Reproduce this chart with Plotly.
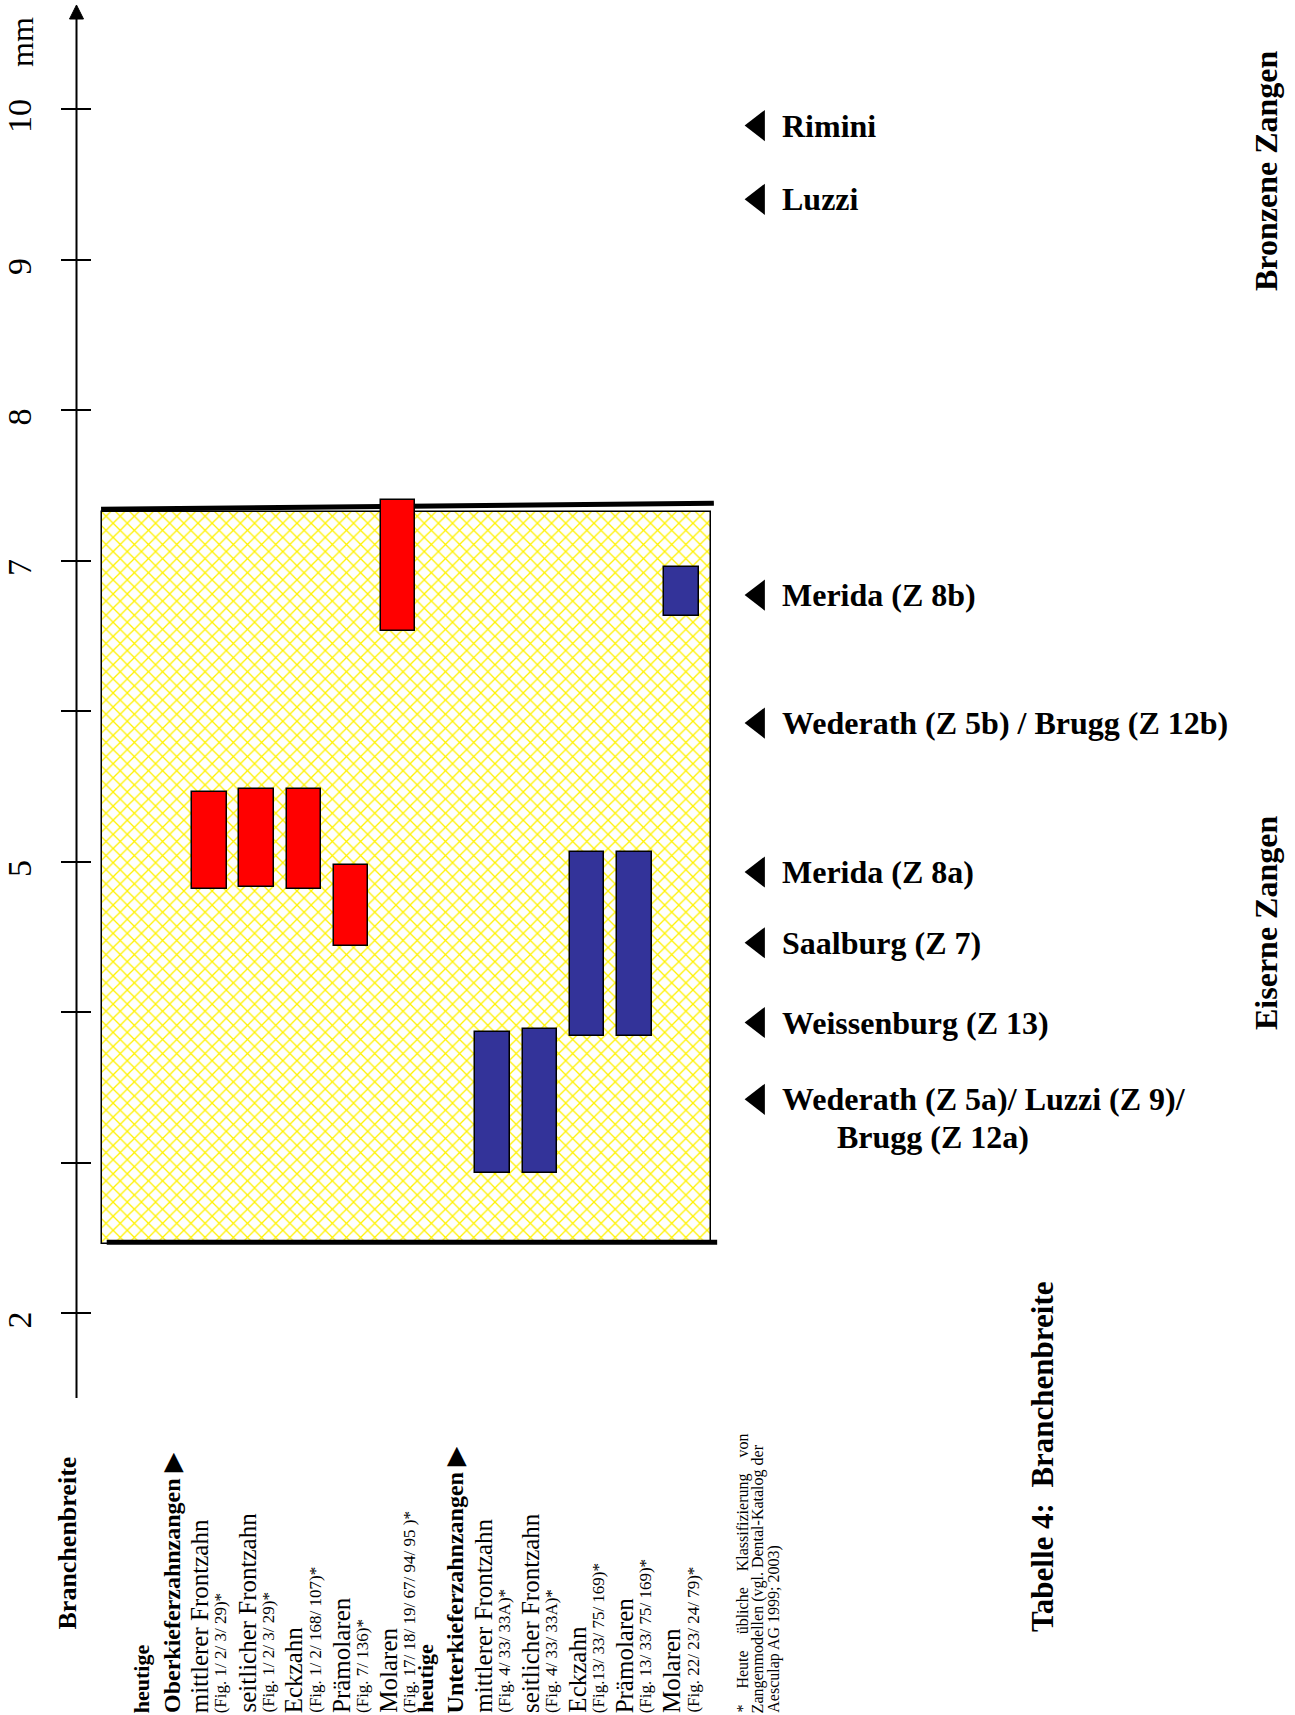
import plotly.graph_objects as go

W, H = 1295, 1715

# ---------------- data ----------------
TOOTH_NAMES = ["mittlerer Frontzahn", "seitlicher Frontzahn", "Eckzahn", "Prämolaren", "Molaren"]
UPPER_FIGS = ["(Fig. 1/ 2/ 3/ 29)*", "(Fig. 1/ 2/ 3/ 29)*", "(Fig. 1/ 2/ 168/ 107)*",
              "(Fig. 7/ 136)*", "(Fig. 17/ 18/ 19/ 67/ 94/ 95 )*"]
UPPER_MIN = [4.82, 4.83, 4.82, 4.44, 6.53]
UPPER_MAX = [5.46, 5.48, 5.48, 4.98, 7.40]

LOWER_FIGS = ["(Fig. 4/ 33/ 33A)*", "(Fig. 4/ 33/ 33A)*", "(Fig.13/ 33/ 75/ 169)*",
              "(Fig. 13/ 33/ 75/ 169)*", "(Fig. 22/ 23/ 24/ 79)*"]
LOWER_MIN = [2.93, 2.93, 3.84, 3.84, 6.63]
LOWER_MAX = [3.87, 3.89, 5.06, 5.06, 6.96]

HEUTIGE_RANGE = [2.46, 7.32]
HEUTIGE_TOP_LINE = [7.34, 7.38]
HEUTIGE_BOTTOM_LINE = [2.47, 2.47]

SITE_NAMES = ["Rimini", "Luzzi", "Merida (Z 8b)", "Wederath (Z 5b) / Brugg (Z 12b)",
              "Merida (Z 8a)", "Saalburg (Z 7)", "Weissenburg (Z 13)",
              "Wederath (Z 5a)/ Luzzi (Z 9)/\nBrugg (Z 12a)"]
SITE_MM = [9.89, 9.40, 6.77, 5.92, 4.93, 4.46, 3.93, 3.42]

TICK_VALUES = [2, 3, 4, 5, 6, 7, 8, 9, 10]
TICK_LABELS = ["2", "", "", "5", "", "7", "8", "9", "10"]

# ---------------- layout geometry ----------------
SERIF = "Liberation Serif, Times New Roman, serif"
PX_PER_MM = 150.5
MM6_PX = 711
Y_HI = 6 + MM6_PX / PX_PER_MM
Y_LO = 6 - (H - MM6_PX) / PX_PER_MM
SLOT_PX = 47.23
X0_PX = 209.3
X_LO = -X0_PX / SLOT_PX
X_HI = (W - X0_PX) / SLOT_PX

upper_pos = [i for i in range(len(TOOTH_NAMES))]
lower_pos = [len(TOOTH_NAMES) + 1 + i for i in range(len(TOOTH_NAMES))]


def pxx(p):
    return p / W


def pxy(p):
    return 1 - p / H


def mm_at_px(p):
    return 6 + (MM6_PX - p) / PX_PER_MM


fig = go.Figure()

# yellow hatched range box
box_x0 = upper_pos[0] - 2.272
box_x1 = lower_pos[-1] + 0.623
fig.add_trace(go.Bar(
    x=[(box_x0 + box_x1) / 2], y=[HEUTIGE_RANGE[1] - HEUTIGE_RANGE[0]], base=[HEUTIGE_RANGE[0]],
    width=[box_x1 - box_x0],
    marker=dict(color="#FFFF00", line=dict(color="black", width=1.5),
                pattern=dict(shape="x", fgcolor="#FFF200", bgcolor="white", size=10,
                             solidity=0.24, fillmode="replace")),
    hoverinfo="skip", showlegend=False))

fig.add_trace(go.Bar(
    x=upper_pos, base=UPPER_MIN, y=[a - b for a, b in zip(UPPER_MAX, UPPER_MIN)], width=0.73,
    marker=dict(color="#FF0000", line=dict(color="black", width=1.5)),
    name="Oberkiefer", showlegend=False))
fig.add_trace(go.Bar(
    x=lower_pos, base=LOWER_MIN, y=[a - b for a, b in zip(LOWER_MAX, LOWER_MIN)], width=0.73,
    marker=dict(color="#333399", line=dict(color="black", width=1.5)),
    name="Unterkiefer", showlegend=False))

# site markers (triangles)
marker_x = lower_pos[-1] + 1.62
text_x = lower_pos[-1] + 2.08
fig.add_trace(go.Scatter(
    x=[marker_x] * len(SITE_MM), y=SITE_MM, mode="markers",
    marker=dict(symbol="triangle-left", size=27, color="black", line=dict(width=0)),
    hoverinfo="skip", showlegend=False))

annotations = []
for name, v in zip(SITE_NAMES, SITE_MM):
    for k, line in enumerate(name.split("\n")):
        annotations.append(dict(
            x=text_x, y=v, xref="x", yref="y", text="<b>%s</b>" % line, showarrow=False,
            xanchor="left", yanchor="middle", xshift=55 * k, yshift=-38 * k,
            font=dict(family=SERIF, size=32, color="black")))

# "mm" unit
annotations.append(dict(x=pxx(22), y=mm_at_px(42), xref="paper", yref="y", text="mm",
                        showarrow=False, textangle=-90, xanchor="center", yanchor="middle",
                        font=dict(family=SERIF, size=32, color="black")))

# bottom labels
NAME_FONT = dict(family=SERIF, size=25, color="black")
FIG_FONT = dict(family=SERIF, size=17, color="black")
HEAD_FONT = dict(family=SERIF, size=24, color="black")


def bottom(x, text, font, xshift=0, xref="x", y=0.0):
    annotations.append(dict(x=x, y=y, xref=xref, yref="paper", text=text, showarrow=False,
                            textangle=-90, xanchor="center", yanchor="bottom", xshift=xshift,
                            align="left", font=font))


bottom(pxx(67), "<b>Branchenbreite</b>", dict(family=SERIF, size=26, color="black"),
       xref="paper", y=(H - 1632) / H)
for pos, figs, head in ((upper_pos, UPPER_FIGS, "Oberkieferzahnzangen ▶"),
                        (lower_pos, LOWER_FIGS, "Unterkieferzahnzangen ▶")):
    bottom(pos[0] - 1.43, "<b>heutige</b>", dict(family=SERIF, size=22, color="black"))
    bottom(pos[0] - 0.8, "<b>%s</b>" % head, HEAD_FONT)
    for p, nm, fg in zip(pos, TOOTH_NAMES, figs):
        bottom(p, nm, NAME_FONT, xshift=-10)
        bottom(p, fg, FIG_FONT, xshift=11)

NB = "\u00a0"
FOOT = ["*" + NB * 4 + "Heute" + NB * 4 + "übliche" + NB * 4 + "Klassifizierung" + NB * 4 + "von",
        "Zangenmodellen (vgl. Dental-Katalog der",
        "Aesculap AG 1999; 2003)"]
for k, line in enumerate(FOOT):
    bottom(lower_pos[-1] + 1.28 + 0.335 * k, line, dict(family=SERIF, size=16, color="black"))

# right side titles
for txt, xp, yp, sz in (("Bronzene Zangen", 1266, 171, 32), ("Eiserne Zangen", 1266, 923, 32),
                        ("Tabelle 4:" + NB + " Branchenbreite", 1042, 1457, 31)):
    annotations.append(dict(x=pxx(xp), y=pxy(yp), xref="paper", yref="paper",
                            text="<b>%s</b>" % txt, showarrow=False, textangle=-90,
                            xanchor="center", yanchor="middle",
                            font=dict(family=SERIF, size=sz, color="black")))

# shapes: axis line, arrow head, thick range lines
AX_PX = 76.5
shapes = [
    dict(type="line", xref="paper", yref="y", x0=pxx(AX_PX), x1=pxx(AX_PX),
         y0=mm_at_px(1398), y1=mm_at_px(18), line=dict(color="black", width=2)),
    dict(type="path", xref="paper", yref="paper",
         path="M %f,%f L %f,%f L %f,%f Z" % (pxx(AX_PX), pxy(5), pxx(AX_PX - 7), pxy(19),
                                             pxx(AX_PX + 7), pxy(19)),
         fillcolor="black", line=dict(color="black", width=1)),
    dict(type="line", xref="x", yref="y", x0=box_x0 - 0.02, x1=box_x1 + 0.06,
         y0=HEUTIGE_TOP_LINE[0], y1=HEUTIGE_TOP_LINE[1], line=dict(color="black", width=5),
         layer="below"),
    dict(type="line", xref="x", yref="y", x0=box_x0 + 0.1, x1=box_x1 + 0.13,
         y0=HEUTIGE_BOTTOM_LINE[0], y1=HEUTIGE_BOTTOM_LINE[1], line=dict(color="black", width=5),
         layer="above"),
]

fig.update_layout(
    width=W, height=H, autosize=False,
    margin=dict(l=0, r=0, t=0, b=0, pad=0),
    paper_bgcolor="white", plot_bgcolor="white",
    barmode="overlay", bargap=0,
    xaxis=dict(range=[X_LO, X_HI], visible=False, fixedrange=True),
    yaxis=dict(range=[Y_LO, Y_HI], tickvals=TICK_VALUES, ticktext=TICK_LABELS,
               ticks="outside", ticklen=30, tickwidth=2, tickcolor="black",
               showline=False, showgrid=False, zeroline=False,
               anchor="free", position=pxx(91), tickangle=-90, ticklabelstandoff=16,
               ticklabelshift=12,
               tickfont=dict(family=SERIF, size=34, color="black"), fixedrange=True),
    annotations=annotations, shapes=shapes, showlegend=False,
)

fig.write_html("out.html", config={"displayModeBar": False},
               post_script="document.body.style.margin='0';")
